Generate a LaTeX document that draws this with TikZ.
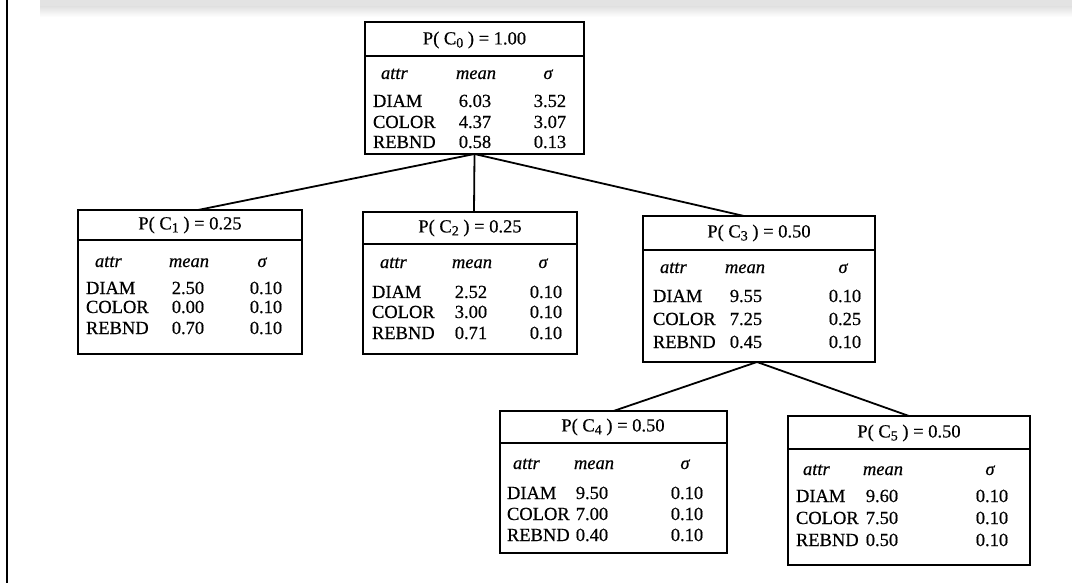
\documentclass[tikz,border=0pt]{standalone}
\usepackage{fontspec}
\setmainfont{Liberation Serif}[FakeBold=0.5]
\begin{document}
\begin{tikzpicture}[x=1pt,y=-1pt,
  clusterbox/.style={draw, line width=1.7pt, inner sep=0pt, outer sep=0pt, anchor=north west},
  divider/.style={line width=1.5pt},
  link/.style={line width=1.8pt},
  txt/.style={inner sep=0pt, outer sep=0pt, font=\fontsize{18.5}{20}\selectfont},
  hdr/.style={txt, font=\fontsize{18.5}{20}\selectfont\itshape},
]
% page frame
\useasboundingbox (0,0) rectangle (1072,583);
\fill[gray!22] (40,0) rectangle (1072,7);
\shade[top color=gray!22, bottom color=white] (40,7) rectangle (1072,17);
\draw[line width=2pt] (7,0) -- (7,583);

% subscripted cluster label
\newcommand\clab[2]{P( C\raisebox{-0.35ex}{\fontsize{14}{14}\selectfont #1} ) = #2}
% one row of a cluster table: prefix, baseline y, name x, mean x, sigma x, name, mean, sigma
\newcommand\crow[8]{%
  \node[txt, anchor=base west] (#1n) at (#3,#2) {#6};
  \node[txt, anchor=base] (#1m) at (#4,#2) {#7};
  \node[txt, anchor=base] (#1s) at (#5,#2) {#8};}
% header row: prefix, baseline y, attr x, mean x, sigma x
\newcommand\chead[5]{%
  \node[hdr, anchor=base west] (#1a) at (#3,#2) {attr};
  \node[hdr, anchor=base] (#1b) at (#4,#2) {mean};
  \node[hdr, anchor=base] (#1c) at (#5,#2) {σ};}

% ---- C0
\node[clusterbox, minimum width=219pt, minimum height=132pt] (c0) at (365,22) {};
\draw[divider] (c0.west |- 0,56) -- (c0.east |- 0,56);
\node[txt] (c0t) at (474.5,40) {\clab{0}{1.00}};
\chead{c0h}{79}{381}{476}{548}
\crow{c0r1}{107}{373}{475}{550}{DIAM}{6.03}{3.52}
\crow{c0r2}{128}{373}{475}{550}{COLOR}{4.37}{3.07}
\crow{c0r3}{148}{373}{475}{550}{REBND}{0.58}{0.13}

% ---- C1
\node[clusterbox, minimum width=224pt, minimum height=144pt] (c1) at (78,210) {};
\draw[divider] (c1.west |- 0,240) -- (c1.east |- 0,240);
\node[txt] (c1t) at (190,225) {\clab{1}{0.25}};
\chead{c1h}{267}{95}{189}{262}
\crow{c1r1}{294}{86}{188}{266}{DIAM}{2.50}{0.10}
\crow{c1r2}{313}{86}{188}{266}{COLOR}{0.00}{0.10}
\crow{c1r3}{334}{86}{188}{266}{REBND}{0.70}{0.10}

% ---- C2
\node[clusterbox, minimum width=214pt, minimum height=142pt] (c2) at (363,212) {};
\draw[divider] (c2.west |- 0,244) -- (c2.east |- 0,244);
\node[txt] (c2t) at (470,228) {\clab{2}{0.25}};
\chead{c2h}{268}{380}{472}{543}
\crow{c2r1}{298}{372}{471}{546}{DIAM}{2.52}{0.10}
\crow{c2r2}{318}{372}{471}{546}{COLOR}{3.00}{0.10}
\crow{c2r3}{339}{372}{471}{546}{REBND}{0.71}{0.10}

% ---- C3
\node[clusterbox, minimum width=232pt, minimum height=146pt] (c3) at (643,216) {};
\draw[divider] (c3.west |- 0,250) -- (c3.east |- 0,250);
\node[txt] (c3t) at (759,233) {\clab{3}{0.50}};
\chead{c3h}{273}{660}{745}{843}
\crow{c3r1}{302}{653}{746}{845}{DIAM}{9.55}{0.10}
\crow{c3r2}{325}{653}{746}{845}{COLOR}{7.25}{0.25}
\crow{c3r3}{348}{653}{746}{845}{REBND}{0.45}{0.10}

% ---- C4
\node[clusterbox, minimum width=227pt, minimum height=142pt] (c4) at (500,411) {};
\draw[divider] (c4.west |- 0,443) -- (c4.east |- 0,443);
\node[txt] (c4t) at (613,427) {\clab{4}{0.50}};
\chead{c4h}{469}{513}{594}{685}
\crow{c4r1}{499}{507}{592}{687}{DIAM}{9.50}{0.10}
\crow{c4r2}{520}{507}{592}{687}{COLOR}{7.00}{0.10}
\crow{c4r3}{541}{507}{592}{687}{REBND}{0.40}{0.10}

% ---- C5
\node[clusterbox, minimum width=242pt, minimum height=149pt] (c5) at (788,416) {};
\draw[divider] (c5.west |- 0,449) -- (c5.east |- 0,449);
\node[txt] (c5t) at (909,433) {\clab{5}{0.50}};
\chead{c5h}{475}{803}{883}{990}
\crow{c5r1}{502}{796}{882}{992}{DIAM}{9.60}{0.10}
\crow{c5r2}{524}{796}{882}{992}{COLOR}{7.50}{0.10}
\crow{c5r3}{546}{796}{882}{992}{REBND}{0.50}{0.10}

% ---- hierarchy links
\draw[link] (c0.south) -- ([xshift=8pt]c1.north);
\draw[link] (c0.south) -- ([xshift=4pt]c2.north);
\draw[link] (c0.south) -- ([xshift=-15pt]c3.north);
\draw[link] ([xshift=-2pt]c3.south) -- (c4.north);
\draw[link] ([xshift=-2pt]c3.south) -- (c5.north);
\end{tikzpicture}
\end{document}
